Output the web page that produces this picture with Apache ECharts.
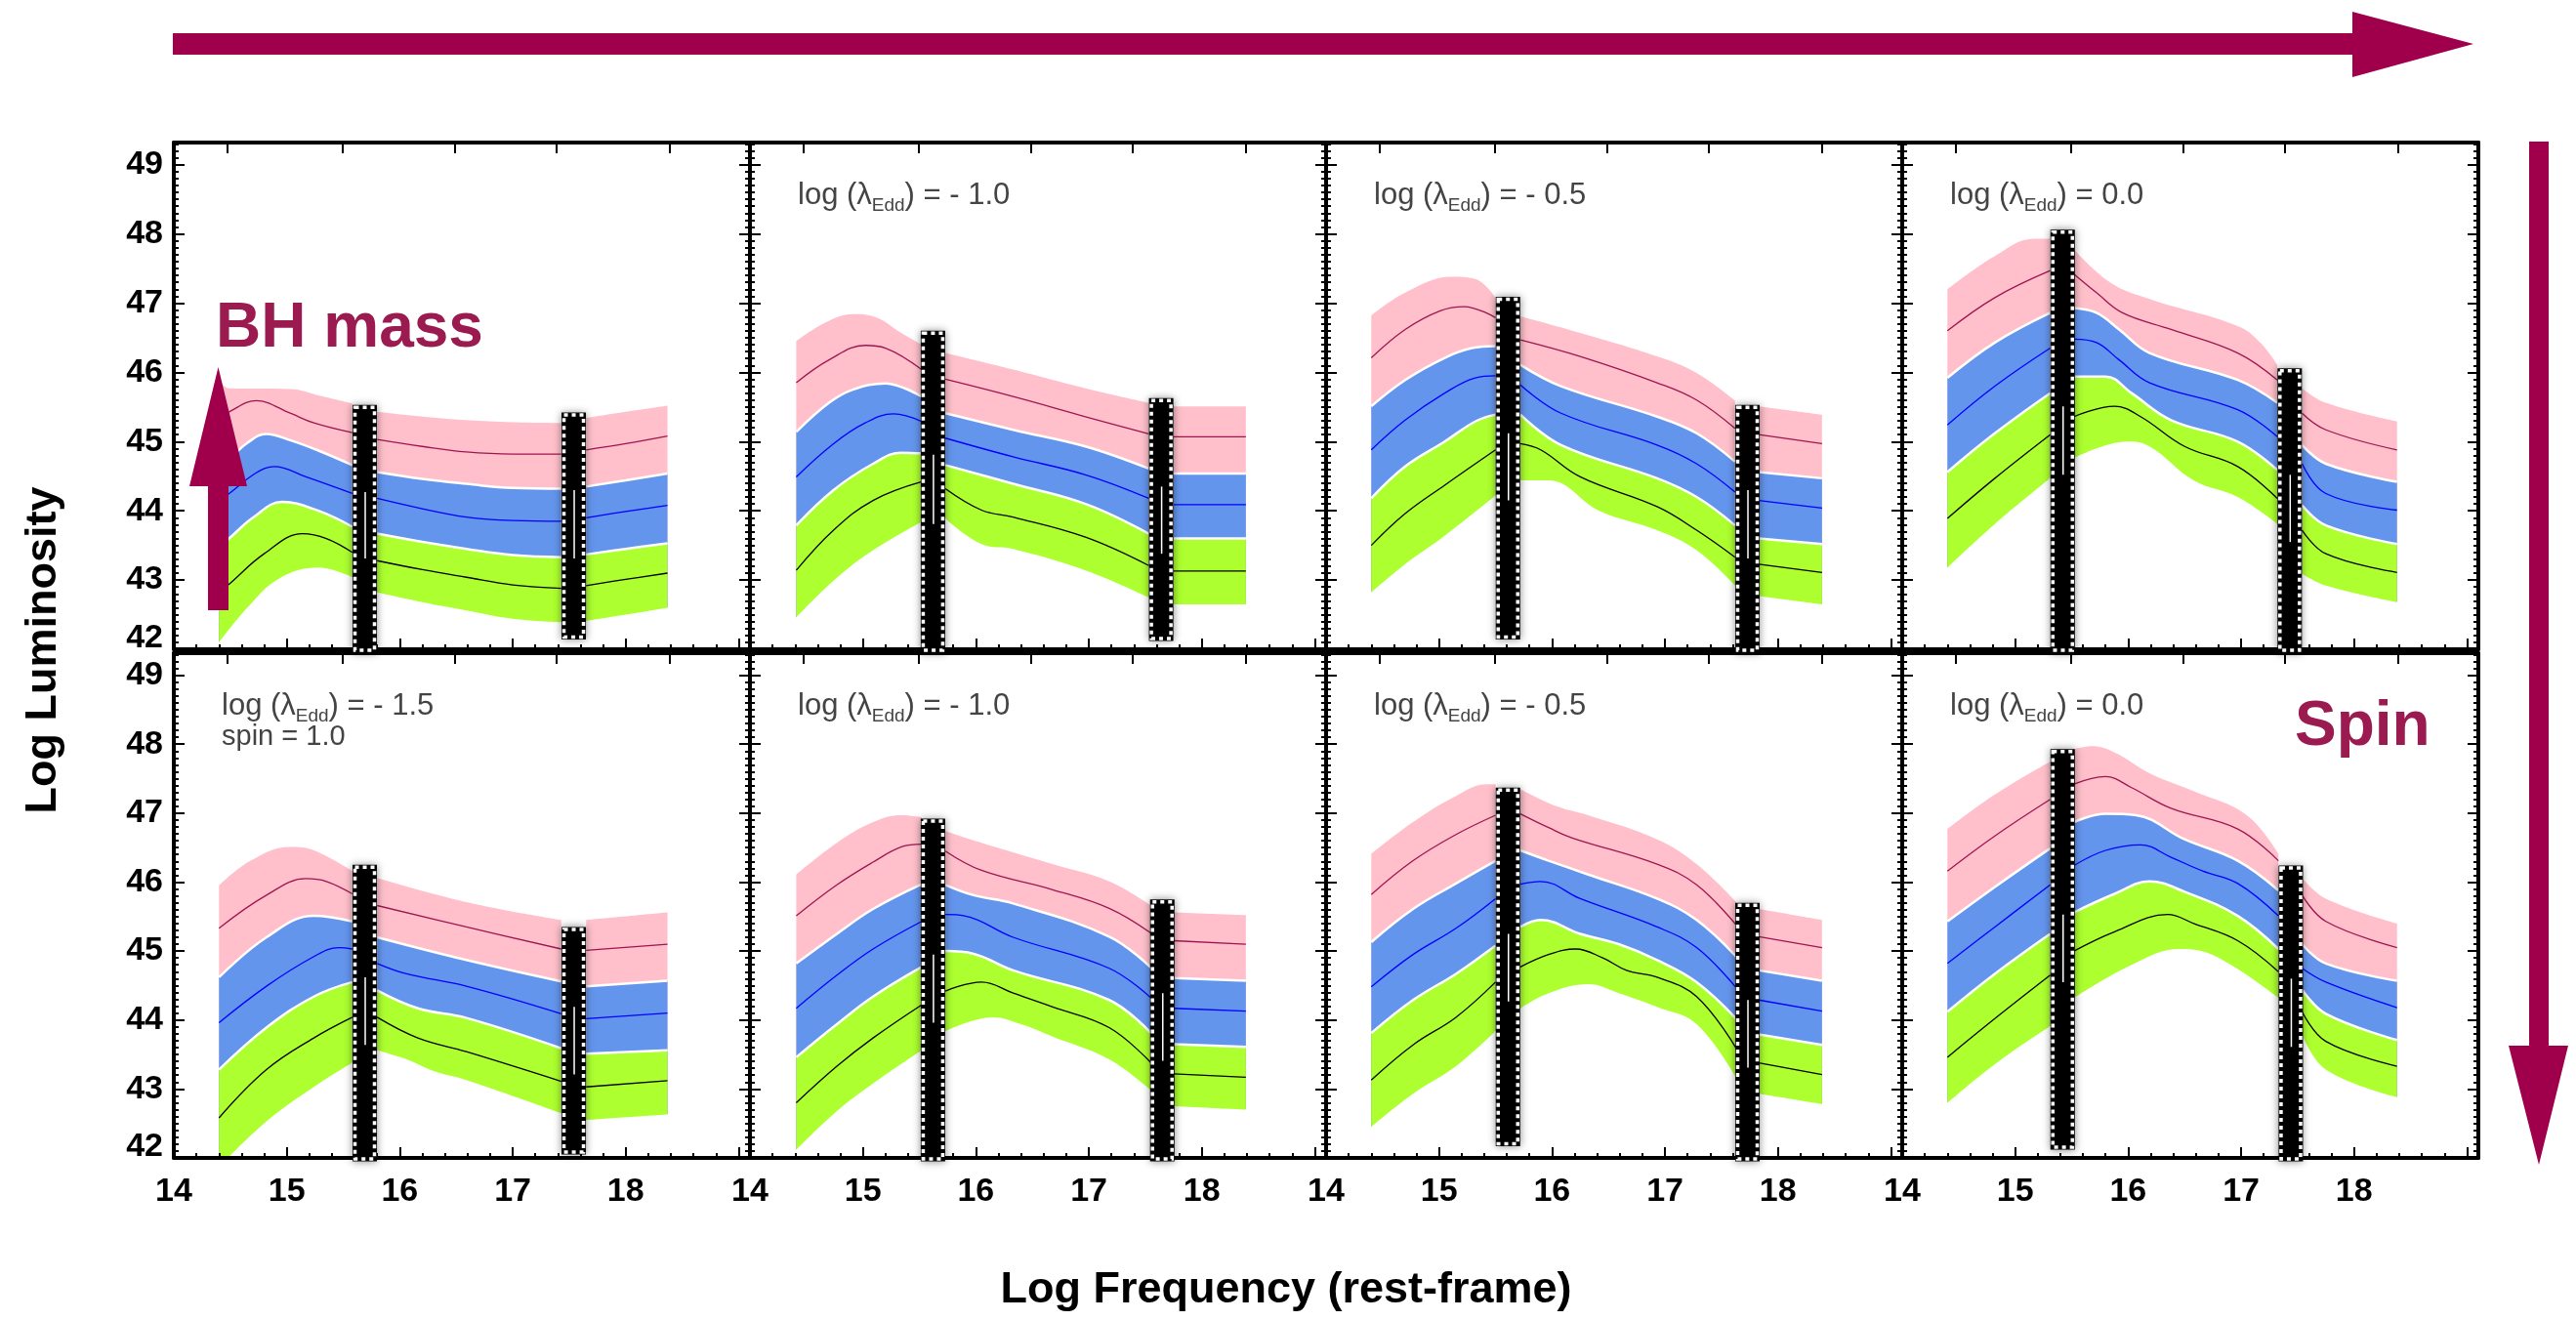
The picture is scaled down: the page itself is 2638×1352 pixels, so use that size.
<!DOCTYPE html>
<html>
<head>
<meta charset="utf-8">
<title>SED grid</title>
<script src="https://cdn.jsdelivr.net/npm/echarts@6.0.0/dist/echarts.min.js"></script>
<style>
html,body{margin:0;padding:0;background:#ffffff;}
#chart{width:2638px;height:1352px;}
</style>
</head>
<body>
<div id="chart"></div>
<script>
// ---------------- DATA ----------------
// panel order: top row (lambda -1.5, -1.0, -0.5, 0.0), bottom row (spin = 1.0: -1.5, -1.0, -0.5, 0.0)
const panelLambda = [null, '- 1.0', '- 0.5', '0.0', '- 1.5', '- 1.0', '- 0.5', '0.0'];
const panelExtra  = [null, null, null, null, 'spin = 1.0', null, null, null];
const xTickValues = [14, 15, 16, 17, 18];
const yTickValues = [42, 43, 44, 45, 46, 47, 48, 49];
const topTickValues = [14.47, 15.49, 16.49, 17.39, 18.39];

// each panel: 3 segments (split by the two black bars), each a list of [logNu, logL]
const pinkTop = [
  [[[14.40,45.88],[14.49,45.77],[15.03,45.76],[15.30,45.66],[15.58,45.55]],[[15.80,45.43],[16.20,45.36],[16.59,45.31],[17.00,45.28],[17.43,45.27]],[[17.65,45.34],[18.00,45.43],[18.37,45.52]]],
  [[[14.41,46.45],[14.67,46.72],[14.91,46.84],[15.09,46.81],[15.34,46.57],[15.52,46.40]],[[15.73,46.28],[16.33,46.04],[16.97,45.77],[17.53,45.56]],[[17.75,45.51],[18.39,45.51]]],
  [[[14.40,46.82],[14.70,47.15],[15.11,47.38],[15.32,47.35],[15.50,47.08]],[[15.72,46.81],[16.25,46.57],[16.93,46.23],[17.28,45.99],[17.62,45.59]],[[17.83,45.51],[18.39,45.39]]],
  [[[14.40,47.20],[14.82,47.68],[15.17,47.93],[15.31,47.93]],[[15.52,47.78],[15.84,47.30],[16.19,47.06],[16.97,46.67],[17.17,46.43],[17.32,46.11]],[[17.54,45.77],[17.75,45.56],[18.38,45.29]]],
  [[[14.40,45.95],[14.68,46.31],[15.03,46.51],[15.24,46.46],[15.58,46.16]],[[15.80,46.06],[16.59,45.71],[17.43,45.45]],[[17.65,45.45],[18.37,45.56]]],
  [[[14.41,46.11],[14.77,46.57],[15.09,46.87],[15.34,46.97],[15.52,46.94]],[[15.73,46.74],[16.05,46.57],[16.68,46.26],[17.18,46.01],[17.55,45.66]],[[17.75,45.56],[18.39,45.52]]],
  [[[14.40,46.41],[14.77,46.87],[15.15,47.25],[15.42,47.42],[15.50,47.42]],[[15.72,47.35],[16.04,47.10],[16.32,46.97],[16.93,46.62],[17.28,46.26],[17.63,45.71]],[[17.83,45.61],[18.39,45.45]]],
  [[[14.40,46.77],[14.82,47.27],[15.31,47.75]],[[15.52,47.93],[15.68,47.97],[15.88,47.88],[16.19,47.58],[16.58,47.32],[17.05,46.97],[17.33,46.41]],[[17.54,46.06],[17.75,45.76],[18.38,45.40]]]
];
const pinkMid = [
  [[[14.40,45.33],[14.49,45.43],[14.73,45.59],[15.03,45.41],[15.24,45.27],[15.58,45.13]],[[15.80,45.03],[16.20,44.93],[16.59,44.85],[17.00,44.82],[17.43,44.82]],[[17.65,44.88],[18.00,44.97],[18.37,45.08]]],
  [[[14.41,45.85],[14.70,46.18],[15.02,46.39],[15.20,46.35],[15.52,46.04]],[[15.73,45.90],[16.33,45.65],[16.97,45.36],[17.53,45.11]],[[17.75,45.07],[18.39,45.07]]],
  [[[14.40,46.21],[14.70,46.62],[15.01,46.89],[15.22,46.95],[15.50,46.79]],[[15.72,46.47],[16.25,46.23],[16.93,45.85],[17.28,45.60],[17.62,45.19]],[[17.83,45.10],[18.39,44.97]]],
  [[[14.40,46.60],[14.82,47.08],[15.31,47.47]],[[15.52,47.42],[15.72,47.15],[15.95,46.86],[16.38,46.62],[16.97,46.28],[17.32,45.89]],[[17.54,45.41],[17.75,45.17],[18.38,44.88]]],
  [[[14.40,45.33],[14.82,45.81],[15.17,46.05],[15.35,46.01],[15.58,45.83]],[[15.80,45.66],[16.59,45.35],[17.43,45.03]],[[17.65,45.01],[18.37,45.10]]],
  [[[14.41,45.51],[14.77,45.96],[15.09,46.29],[15.34,46.51],[15.52,46.55]],[[15.73,46.45],[16.05,46.17],[16.68,45.89],[17.18,45.62],[17.55,45.26]],[[17.75,45.15],[18.39,45.10]]],
  [[[14.40,45.82],[14.77,46.31],[15.15,46.69],[15.50,46.97]],[[15.72,46.99],[15.97,46.79],[16.18,46.64],[16.93,46.26],[17.28,45.96],[17.63,45.38]],[[17.83,45.21],[18.39,45.05]]],
  [[[14.40,46.16],[14.82,46.67],[15.31,47.20]],[[15.52,47.42],[15.80,47.53],[16.03,47.37],[16.38,47.07],[16.97,46.77],[17.33,46.31]],[[17.54,45.81],[17.75,45.43],[18.38,45.05]]]
];
const blueTop = [
  [[[14.40,44.60],[14.49,44.74],[14.65,44.98],[14.82,45.11],[15.03,45.02],[15.28,44.87],[15.58,44.66]],[[15.80,44.56],[16.20,44.46],[16.59,44.39],[17.00,44.33],[17.43,44.32]],[[17.65,44.35],[18.00,44.44],[18.37,44.54]]],
  [[[14.41,45.14],[14.70,45.56],[14.91,45.75],[15.20,45.84],[15.37,45.77],[15.52,45.65]],[[15.73,45.41],[16.33,45.17],[16.97,44.93],[17.53,44.61]],[[17.75,44.54],[18.39,44.54]]],
  [[[14.40,45.51],[14.70,45.89],[15.05,46.21],[15.29,46.35],[15.50,46.38]],[[15.72,46.11],[16.08,45.80],[16.93,45.36],[17.28,45.12],[17.62,44.71]],[[17.83,44.56],[18.39,44.47]]],
  [[[14.40,45.92],[14.82,46.43],[15.31,46.86]],[[15.52,46.93],[15.72,46.86],[15.92,46.62],[16.19,46.28],[16.97,45.89],[17.32,45.56]],[[17.54,44.95],[17.75,44.68],[18.38,44.42]]],
  [[[14.40,44.62],[14.82,45.20],[15.24,45.51],[15.58,45.43]],[[15.80,45.20],[16.59,44.87],[17.43,44.56]],[[17.65,44.49],[18.37,44.57]]],
  [[[14.41,44.82],[14.77,45.25],[15.09,45.61],[15.52,45.97]],[[15.73,45.96],[15.98,45.81],[16.33,45.69],[17.18,45.21],[17.55,44.76]],[[17.75,44.61],[18.39,44.57]]],
  [[[14.40,45.13],[14.77,45.61],[15.15,45.98],[15.50,46.31]],[[15.72,46.46],[15.97,46.31],[16.32,46.11],[16.93,45.76],[17.28,45.45],[17.63,44.92]],[[17.83,44.72],[18.39,44.57]]],
  [[[14.40,45.43],[14.82,45.93],[15.31,46.49]],[[15.52,46.87],[15.80,46.99],[16.07,46.97],[16.50,46.62],[16.97,46.31],[17.33,45.88]],[[17.54,45.10],[17.75,44.82],[18.38,44.57]]]
];
const blueMid = [
  [[[14.40,44.15],[14.49,44.25],[14.73,44.55],[14.89,44.64],[15.17,44.49],[15.58,44.25]],[[15.80,44.18],[16.20,44.03],[16.59,43.91],[17.00,43.86],[17.43,43.85]],[[17.65,43.90],[18.00,43.99],[18.37,44.08]]],
  [[[14.41,44.49],[14.74,44.97],[15.02,45.27],[15.27,45.40],[15.52,45.29]],[[15.73,45.05],[16.33,44.78],[16.97,44.52],[17.53,44.18]],[[17.75,44.09],[18.39,44.09]]],
  [[[14.40,44.88],[14.70,45.31],[15.05,45.70],[15.32,45.92],[15.50,45.95]],[[15.72,45.82],[16.08,45.41],[16.93,44.95],[17.28,44.68],[17.62,44.27]],[[17.83,44.15],[18.39,44.04]]],
  [[[14.40,45.24],[14.82,45.80],[15.31,46.35]],[[15.52,46.48],[15.72,46.43],[15.92,46.18],[16.19,45.85],[16.97,45.46],[17.32,45.07]],[[17.54,44.68],[17.75,44.25],[18.38,44.01]]],
  [[[14.40,43.96],[14.82,44.49],[15.24,44.92],[15.46,45.05],[15.58,45.03]],[[15.80,44.82],[16.06,44.67],[16.59,44.49],[17.43,44.09]],[[17.65,44.02],[18.37,44.10]]],
  [[[14.41,44.17],[14.77,44.65],[15.09,45.03],[15.52,45.43]],[[15.73,45.53],[15.90,45.51],[16.33,45.20],[17.18,44.75],[17.55,44.32]],[[17.75,44.17],[18.39,44.13]]],
  [[[14.40,44.48],[14.77,44.95],[15.15,45.33],[15.50,45.76]],[[15.72,45.97],[15.90,46.01],[16.25,45.76],[16.93,45.35],[17.28,45.05],[17.63,44.47]],[[17.83,44.29],[18.39,44.13]]],
  [[[14.40,44.82],[14.82,45.35],[15.31,45.96]],[[15.52,46.24],[15.80,46.46],[16.11,46.54],[16.38,46.36],[16.66,46.16],[16.97,45.98],[17.33,45.51]],[[17.54,44.75],[17.75,44.55],[18.38,44.18]]]
];
const greenTop = [
  [[[14.40,43.48],[14.49,43.60],[14.70,43.90],[14.96,44.13],[15.28,44.00],[15.58,43.77]],[[15.80,43.67],[16.20,43.55],[16.59,43.45],[17.00,43.36],[17.43,43.33]],[[17.65,43.37],[18.00,43.45],[18.37,43.53]]],
  [[[14.41,43.79],[14.74,44.30],[15.09,44.68],[15.34,44.84],[15.52,44.83]],[[15.73,44.66],[16.33,44.39],[16.97,44.10],[17.53,43.67]],[[17.75,43.60],[18.39,43.60]]],
  [[[14.40,44.18],[14.70,44.64],[15.05,45.00],[15.32,45.29],[15.50,45.39]],[[15.72,45.39],[16.08,44.95],[16.93,44.47],[17.28,44.20],[17.62,43.79]],[[17.83,43.60],[18.39,43.52]]],
  [[[14.40,44.56],[14.82,45.12],[15.31,45.70]],[[15.52,45.94],[15.80,45.94],[16.03,45.70],[16.38,45.31],[16.97,45.00],[17.32,44.59]],[[17.54,44.08],[17.75,43.79],[18.38,43.52]]],
  [[[14.40,43.28],[14.82,43.89],[15.24,44.34],[15.58,44.55]],[[15.80,44.43],[16.16,44.17],[16.59,44.03],[17.43,43.59]],[[17.65,43.51],[18.37,43.56]]],
  [[[14.41,43.46],[14.77,43.94],[15.09,44.34],[15.52,44.77]],[[15.73,45.00],[15.98,44.96],[16.33,44.72],[17.18,44.29],[17.55,43.81]],[[17.75,43.65],[18.39,43.61]]],
  [[[14.40,43.81],[14.77,44.29],[15.15,44.67],[15.50,45.08]],[[15.72,45.35],[15.90,45.45],[16.25,45.25],[16.59,45.10],[16.93,44.87],[17.28,44.55],[17.63,44.02]],[[17.83,43.79],[18.39,43.64]]],
  [[[14.40,44.12],[14.82,44.67],[15.31,45.25]],[[15.52,45.56],[15.88,45.83],[16.19,46.01],[16.50,45.86],[16.97,45.51],[17.33,45.03]],[[17.54,44.44],[17.75,44.09],[18.38,43.71]]]
];
const greenMid = [
  [[[14.40,42.82],[14.49,42.94],[14.80,43.38],[15.14,43.67],[15.35,43.60],[15.58,43.40]],[[15.80,43.28],[16.20,43.15],[16.59,43.04],[17.00,42.93],[17.43,42.88]],[[17.65,42.92],[18.00,43.01],[18.37,43.10]]],
  [[[14.41,43.14],[14.74,43.72],[15.09,44.15],[15.52,44.42]],[[15.73,44.32],[16.05,44.01],[16.33,43.91],[16.97,43.62],[17.53,43.21]],[[17.75,43.13],[18.39,43.13]]],
  [[[14.40,43.50],[14.70,43.96],[15.05,44.37],[15.50,44.88]],[[15.72,44.97],[15.90,44.88],[16.25,44.49],[16.93,44.06],[17.28,43.72],[17.62,43.33]],[[17.83,43.23],[18.39,43.11]]],
  [[[14.40,43.89],[14.82,44.47],[15.31,45.10]],[[15.52,45.36],[15.88,45.51],[16.11,45.36],[16.50,44.93],[16.97,44.64],[17.32,44.18]],[[17.54,43.72],[17.75,43.38],[18.38,43.11]]],
  [[[14.40,42.58],[14.82,43.28],[15.24,43.74],[15.58,44.04]],[[15.80,44.04],[16.16,43.74],[16.59,43.54],[17.43,43.11]],[[17.65,43.03],[18.37,43.12]]],
  [[[14.41,42.80],[14.77,43.33],[15.09,43.74],[15.52,44.22]],[[15.73,44.42],[16.05,44.55],[16.33,44.39],[16.68,44.19],[17.18,43.89],[17.55,43.38]],[[17.75,43.22],[18.39,43.17]]],
  [[[14.40,43.13],[14.77,43.64],[15.15,44.04],[15.50,44.55]],[[15.72,44.77],[15.97,44.95],[16.21,45.03],[16.45,44.90],[16.66,44.72],[16.93,44.62],[17.28,44.34],[17.63,43.59]],[[17.83,43.38],[18.39,43.21]]],
  [[[14.40,43.46],[14.82,44.02],[15.31,44.65]],[[15.52,45.00],[15.88,45.28],[16.35,45.53],[16.58,45.40],[16.97,45.15],[17.33,44.70]],[[17.54,44.12],[17.75,43.69],[18.38,43.33]]]
];
const greenBot = [
  [[[14.40,42.10],[14.65,42.60],[14.93,43.02],[15.28,43.18],[15.58,43.04]],[[15.80,42.82],[16.20,42.68],[16.59,42.56],[17.00,42.44],[17.43,42.39]],[[17.65,42.41],[18.00,42.50],[18.37,42.60]]],
  [[[14.41,42.46],[14.74,42.99],[15.09,43.43],[15.52,43.84]],[[15.73,43.89],[16.05,43.52],[16.33,43.45],[16.97,43.14],[17.53,42.75]],[[17.75,42.65],[18.39,42.65]]],
  [[[14.40,42.82],[14.70,43.23],[15.05,43.64],[15.50,44.22]],[[15.72,44.44],[15.97,44.44],[16.42,44.00],[16.93,43.72],[17.28,43.43],[17.62,42.92]],[[17.83,42.77],[18.39,42.65]]],
  [[[14.40,43.18],[14.82,43.81],[15.31,44.47]],[[15.52,44.76],[15.99,45.00],[16.19,44.93],[16.58,44.44],[16.97,44.20],[17.32,43.81]],[[17.54,43.09],[17.75,42.92],[18.38,42.68]]],
  [[[14.40,41.87],[14.82,42.53],[15.24,43.03],[15.58,43.38]],[[15.80,43.56],[16.06,43.43],[16.30,43.26],[16.59,43.13],[17.43,42.65]],[[17.65,42.55],[18.37,42.63]]],
  [[[14.41,42.12],[14.77,42.68],[15.09,43.08],[15.52,43.56]],[[15.73,43.84],[16.15,44.04],[16.40,43.94],[16.68,43.76],[17.18,43.43],[17.55,42.98]],[[17.75,42.75],[18.39,42.70]]],
  [[[14.40,42.45],[14.77,42.93],[15.15,43.33],[15.50,43.84]],[[15.72,44.17],[15.97,44.39],[16.32,44.52],[16.59,44.39],[16.93,44.19],[17.28,43.94],[17.63,43.16]],[[17.83,42.93],[18.39,42.78]]],
  [[[14.40,42.80],[14.82,43.36],[15.31,43.91]],[[15.52,44.32],[16.03,44.80],[16.46,45.03],[16.78,44.92],[17.33,44.32]],[[17.54,43.79],[17.75,43.28],[18.38,42.88]]]
];
// black bars: [centre logNu, top, bottom, inner white line top, inner white line bottom]
const barsData = [
  [[15.69,45.53,41.95,44.27,43.31],[17.54,45.42,42.14,44.30,43.31]],
  [[15.62,46.60,41.95,44.81,43.81],[17.64,45.63,42.12,44.35,43.38]],
  [[15.61,47.09,42.14,45.12,44.15],[17.73,45.53,41.95,44.30,43.31]],
  [[15.42,48.06,41.95,45.51,44.52],[17.43,46.06,41.95,44.52,43.55]],
  [[15.69,46.25,41.95,44.62,43.64],[17.54,45.35,42.05,44.19,43.21]],
  [[15.62,46.92,41.95,44.95,43.96],[17.65,45.75,41.95,44.39,43.41]],
  [[15.61,47.37,42.17,45.25,44.27],[17.73,45.70,41.95,44.29,43.31]],
  [[15.42,47.93,42.12,45.53,44.55],[17.44,46.24,41.95,44.60,43.61]]
];

// ---------------- LAYOUT / STYLE ----------------
const FONT = "'Liberation Sans', Arial, sans-serif";
const LFONT = "'Liberation Sans', Arial, sans-serif";
const ACCENT = '#A0004B';
const ACCENT_TEXT = '#9B1B50';
const GRID_LEFT0 = 178, GRID_W = 590;
const ROW_TOP = [146, 669], ROW_H = [519, 517];
const X_MIN = 14, X_MAX = 19.1, Y_MIN = 42, Y_MAX = 49.32;

function xFmt(v){ const r = Math.round(v); if (Math.abs(v - r) > 1e-6 || xTickValues.indexOf(r) < 0) return ''; return String(r); }
function yFmt(v){ const r = Math.round(v); if (Math.abs(v - r) > 1e-6 || yTickValues.indexOf(r) < 0) return ''; return r === yTickValues[0] ? '{lo|' + r + '}' : String(r); }

const grids = [], xAxes = [], yAxes = [], series = [], graphics = [];
const lineW = 4;
const majorTick = { show: true, inside: true, length: 11, lineStyle: { color: '#000', width: 2 } };
const minorTick = { show: true, inside: true, length: 5, lineStyle: { color: '#000', width: 2 } };

for (let p = 0; p < 8; p++) {
  const row = p < 4 ? 0 : 1, col = p % 4;
  const g = { left: GRID_LEFT0 + col * GRID_W, top: ROW_TOP[row], width: GRID_W, height: ROW_H[row], show: false, containLabel: false };
  grids.push(Object.assign({}, g));          // main grid 2p
  grids.push(Object.assign({}, g));          // overlay grid (minor ticks) 2p+1

  xAxes.push({ gridIndex: 2*p, type: 'value', min: X_MIN, max: X_MAX, interval: 1, position: 'bottom', z: 10,
    axisLine: { show: true, onZero: false, lineStyle: { color: '#000', width: lineW } },
    axisTick: majorTick,
    axisLabel: { show: row === 1, margin: 18, color: '#000', fontSize: 34, fontWeight: 'bold', fontFamily: FONT, formatter: xFmt, hideOverlap: false },
    splitLine: { show: false } });
  xAxes.push({ gridIndex: 2*p, type: 'value', min: X_MIN, max: X_MAX, position: 'top', z: 10,
    axisLine: { show: true, onZero: false, lineStyle: { color: '#000', width: lineW } },
    axisTick: Object.assign({}, majorTick, { customValues: topTickValues }),
    axisLabel: { show: false }, splitLine: { show: false } });
  xAxes.push({ gridIndex: 2*p+1, type: 'value', min: X_MIN, max: X_MAX, interval: 0.2, position: 'bottom', z: 10,
    axisLine: { show: false }, axisTick: minorTick, axisLabel: { show: false }, splitLine: { show: false } });

  yAxes.push({ gridIndex: 2*p, type: 'value', min: Y_MIN, max: Y_MAX, interval: 1, position: 'left', z: 10,
    axisLine: { show: true, onZero: false, lineStyle: { color: '#000', width: lineW } },
    axisTick: majorTick,
    axisLabel: { show: col === 0, margin: 11, color: '#000', fontSize: 34, fontWeight: 'bold', fontFamily: FONT, formatter: yFmt, hideOverlap: false,
      rich: { lo: { fontSize: 34, fontWeight: 'bold', fontFamily: FONT, color: '#000', padding: [0, 0, 22, 0] } } },
    splitLine: { show: false } });
  yAxes.push({ gridIndex: 2*p, type: 'value', min: Y_MIN, max: Y_MAX, interval: 1, position: 'right', z: 10,
    axisLine: { show: true, onZero: false, lineStyle: { color: '#000', width: lineW } },
    axisTick: majorTick, axisLabel: { show: false }, splitLine: { show: false } });
  yAxes.push({ gridIndex: 2*p+1, type: 'value', min: Y_MIN, max: Y_MAX, interval: 0.1, position: 'left', z: 10,
    axisLine: { show: false }, axisTick: minorTick, axisLabel: { show: false }, splitLine: { show: false } });
  yAxes.push({ gridIndex: 2*p+1, type: 'value', min: Y_MIN, max: Y_MAX, interval: 0.1, position: 'right', z: 10,
    axisLine: { show: false }, axisTick: minorTick, axisLabel: { show: false }, splitLine: { show: false } });

  const xi = 3*p, yi = 4*p;
  const bands = [
    { d: pinkTop,  fill: '#FFC0CB', edge: null },
    { d: blueTop,  fill: '#6495ED', edge: '#ffffff' },
    { d: greenTop, fill: '#ADFF2F', edge: '#ffffff' },
    { d: greenBot, fill: '#ffffff', edge: null }
  ];
  bands.forEach(b => {
    b.d[p].forEach(seg => {
      series.push({ type: 'line', xAxisIndex: xi, yAxisIndex: yi, data: seg, smooth: 0.4, symbol: 'none', showSymbol: false,
        silent: true, z: 2, animation: false,
        areaStyle: { color: b.fill, opacity: 1, origin: 'start' },
        lineStyle: b.edge ? { color: b.edge, width: 2.5 } : { width: 0, opacity: 0 } });
    });
  });
  // clean the anti-aliased vertical edges left below the lowest band
  greenBot[p].forEach(seg => {
    [seg[0], seg[seg.length - 1]].forEach(pt => {
      series.push({ type: 'line', xAxisIndex: xi, yAxisIndex: yi, data: [[pt[0], Y_MIN], [pt[0], pt[1]]], symbol: 'none', showSymbol: false,
        silent: true, z: 2, animation: false, lineStyle: { color: '#ffffff', width: 2 } });
    });
  });
  const mids = [ { d: pinkMid, c: '#9E1550' }, { d: blueMid, c: '#0000FF' }, { d: greenMid, c: '#000000' } ];
  mids.forEach(m => {
    m.d[p].forEach(seg => {
      series.push({ type: 'line', xAxisIndex: xi, yAxisIndex: yi, data: seg, smooth: 0.4, symbol: 'none', showSymbol: false,
        silent: true, z: 3, animation: false, lineStyle: { color: m.c, width: 1.3 } });
    });
  });
  series.push({ type: 'custom', xAxisIndex: xi, yAxisIndex: yi, data: barsData[p], z: 20, silent: true, clip: false, animation: false,
    encode: { x: 0, y: 1 },
    renderItem: function (params, api) {
      const xc = api.value(0);
      const pT = api.coord([xc, api.value(1)]), pB = api.coord([xc, api.value(2)]);
      const lT = api.coord([xc, api.value(3)]), lB = api.coord([xc, api.value(4)]);
      const w = 25, h = pB[1] - pT[1];
      return { type: 'group', children: [
        { type: 'rect', shape: { x: pT[0] - w/2, y: pT[1], width: w, height: h },
          style: { fill: '#000', shadowBlur: 8, shadowColor: 'rgba(0,0,0,0.45)' } },
        { type: 'rect', shape: { x: pT[0] - w/2 + 2.5, y: pT[1] + 2.5, width: w - 5, height: h - 5 },
          style: { fill: null, stroke: '#fff', lineWidth: 3.5, lineDash: [4, 4] } },
        { type: 'line', shape: { x1: lT[0] + 0.5, y1: lT[1], x2: lB[0] + 0.5, y2: lB[1] },
          style: { stroke: '#fff', lineWidth: 1.5 } }
      ] };
    } });
}

// ---------- panel annotations ----------
const mctx = document.createElement('canvas').getContext('2d');
function tw(text, size, weight) { mctx.font = (weight || 'normal') + ' ' + size + 'px ' + LFONT; return mctx.measureText(text).width; }
const MAIN = 31, SUB = 19, K = 0.3465;
for (let p = 0; p < 8; p++) {
  if (!panelLambda[p]) continue;
  const row = p < 4 ? 0 : 1, col = p % 4;
  const x0 = GRID_LEFT0 + col * GRID_W + 49;
  const base = ROW_TOP[row] + 65;
  const t1 = 'log (\u03bb', t2 = 'Edd', t3 = ') = ' + panelLambda[p];
  const w1 = tw(t1, MAIN), w2 = tw(t2, SUB);
  graphics.push({ type: 'text', x: x0, y: base - K*MAIN, z: 100, silent: true,
    style: { text: t1, font: 'normal ' + MAIN + 'px ' + LFONT, fill: '#444', align: 'left', verticalAlign: 'middle' } });
  graphics.push({ type: 'text', x: x0 + w1, y: base + 6 - K*SUB, z: 100, silent: true,
    style: { text: t2, font: 'normal ' + SUB + 'px ' + LFONT, fill: '#444', align: 'left', verticalAlign: 'middle' } });
  graphics.push({ type: 'text', x: x0 + w1 + w2, y: base - K*MAIN, z: 100, silent: true,
    style: { text: t3, font: 'normal ' + MAIN + 'px ' + LFONT, fill: '#444', align: 'left', verticalAlign: 'middle' } });
  if (panelExtra[p]) {
    graphics.push({ type: 'text', x: x0, y: base + 31 - K*29, z: 100, silent: true,
      style: { text: panelExtra[p], font: 'normal 29px ' + LFONT, fill: '#444', align: 'left', verticalAlign: 'middle' } });
  }
}

// arrows and big labels
graphics.push({ type: 'polygon', z: 100, silent: true,
  shape: { points: [[177,34],[2409,34],[2409,12],[2533,45],[2409,79],[2409,56],[177,56]] }, style: { fill: ACCENT } });
graphics.push({ type: 'polygon', z: 100, silent: true,
  shape: { points: [[2590,145],[2610,145],[2610,1071],[2630,1071],[2600,1193],[2569,1071],[2590,1071]] }, style: { fill: ACCENT } });
graphics.push({ type: 'polygon', z: 100, silent: true,
  shape: { points: [[213,625],[234,625],[234,498],[253,498],[223.5,376],[194,498],[213,498]] }, style: { fill: ACCENT } });
graphics.push({ type: 'text', x: 221, y: 360 - K*64, z: 100, silent: true,
  style: { text: 'BH mass', font: 'bold 64px ' + FONT, fill: ACCENT_TEXT, align: 'left', verticalAlign: 'middle' } });
graphics.push({ type: 'text', x: 2350, y: 768 - K*64, z: 100, silent: true,
  style: { text: 'Spin', font: 'bold 64px ' + FONT, fill: ACCENT_TEXT, align: 'left', verticalAlign: 'middle' } });
graphics.push({ type: 'text', x: 1317, y: 1337 - K*45, z: 100, silent: true,
  style: { text: 'Log Frequency (rest-frame)', font: 'bold 45px ' + FONT, fill: '#000', align: 'center', verticalAlign: 'middle' } });
graphics.push({ type: 'text', x: 45, y: 666, rotation: Math.PI / 2, z: 100, silent: true,
  style: { text: 'Log Luminosity', font: 'bold 45px ' + FONT, fill: '#000', align: 'center', verticalAlign: 'middle' } });

const chart = echarts.init(document.getElementById('chart'), null, { renderer: 'canvas', width: 2638, height: 1352 });
chart.setOption({
  animation: false,
  backgroundColor: '#ffffff',
  grid: grids,
  xAxis: xAxes,
  yAxis: yAxes,
  series: series,
  graphic: { elements: graphics }
});
</script>
</body>
</html>
